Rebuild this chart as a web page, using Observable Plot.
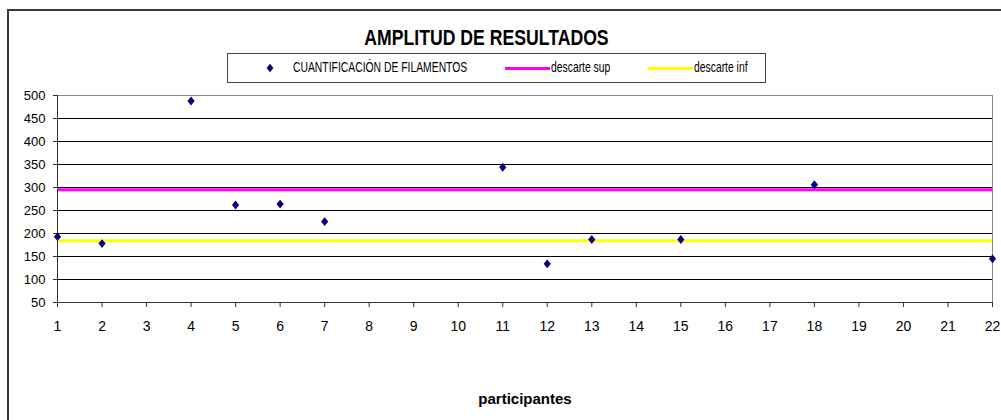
<!DOCTYPE html>
<html>
<head>
<meta charset="utf-8">
<script src="https://cdn.jsdelivr.net/npm/d3@7"></script>
<script src="https://cdn.jsdelivr.net/npm/@observablehq/plot@0.6"></script>
<style>
  html, body { margin: 0; padding: 0; background: #fff; }
  body { width: 1001px; height: 420px; position: relative; overflow: hidden; font-family: "Liberation Sans", Arial, sans-serif; }
  #frame { position: absolute; left: 7px; top: 9px; width: 1100px; height: 600px; border: 2px solid #3a3a3a; box-sizing: border-box; }
  #title { position: absolute; left: 286px; top: 27px; width: 400px; text-align: center; font-weight: bold; font-size: 21px; line-height: 21px; color: #000; }
  #title span { display: inline-block; transform: scale(0.84, 1.04); transform-origin: center; white-space: nowrap; }
  #legend { position: absolute; left: 227px; top: 53px; width: 539px; height: 30px; border: 1px solid #444; box-sizing: border-box; background: #fff; }
  #legend .t { position: absolute; top: 5.8px; font-size: 14px; line-height: 14px; display: inline-block; transform: scaleX(0.74); transform-origin: left center; white-space: nowrap; color: #000; }
  #legend .ln { position: absolute; height: 3px; top: 12.5px; width: 45px; }
  #legend svg { position: absolute; }
  #chart { position: absolute; left: 0; top: 85px; }
</style>
</head>
<body>
<div id="frame"></div>
<div id="title"><span>AMPLITUD DE RESULTADOS</span></div>
<div id="legend"></div>
<div id="chart"></div>
<script>
// ---- data ----
const categorias = ["1","2","3","4","5","6","7","8","9","10","11","12","13","14","15","16","17","18","19","20","21","22"];
const participantes = [1, 2, 4, 5, 6, 7, 11, 12, 13, 15, 18, 22];
const filamentos = [193, 178, 488, 262, 264, 226, 344, 134, 187, 187, 306, 145];
const descarteSup = [295];
const descarteInf = [184];
const yTicks = [50, 100, 150, 200, 250, 300, 350, 400, 450, 500];
const serieNombres = ["CUANTIFICACIÓN DE FILAMENTOS", "descarte sup", "descarte inf"];
const serieColores = ["#000080", "#ff00ff", "#ffff00"];

const puntos = participantes.map((p, i) => ({p: String(p), v: filamentos[i]}));

// tall diamond symbol
const diamante = {
  draw(ctx, size) {
    const r = Math.sqrt(size / Math.PI);
    ctx.moveTo(0, -r * 1.1);
    ctx.lineTo(r * 0.9, 0);
    ctx.lineTo(0, r * 1.1);
    ctx.lineTo(-r * 0.9, 0);
    ctx.closePath();
  }
};

const chart = Plot.plot({
  width: 1001,
  height: 335,
  marginLeft: 57,
  marginRight: 9,
  marginTop: 10,
  marginBottom: 118,
  style: { fontFamily: "'Liberation Sans', Arial, sans-serif", background: "transparent", color: "#000", overflow: "visible" },
  x: { type: "point", domain: categorias, padding: 0, round: false, label: null },
  y: { domain: [50, 500], label: null },
  marks: [
    Plot.ruleY(yTicks.slice(1, -1), { stroke: "#000", strokeWidth: 1 }),
    Plot.frame({ stroke: "#888" }),
    Plot.ruleY(descarteSup, { stroke: serieColores[1], strokeWidth: 3 }),
    Plot.ruleY(descarteInf, { stroke: serieColores[2], strokeWidth: 3 }),
    Plot.ruleY([yTicks[0]], { stroke: "#333" }),
    Plot.ruleX([categorias[0]], { stroke: "#333" }),
    Plot.axisY({ ticks: yTicks, tickSize: 4, tickPadding: 8, fontSize: 13, label: null, stroke: "#333" }),
    Plot.axisX({ ticks: categorias, tickSize: 5, tickPadding: 14, fontSize: 14, label: null, stroke: "#333" }),
    Plot.text(["participantes"], { frameAnchor: "bottom", dy: 101, fontSize: 15, fontWeight: "bold", fill: "#000" }),
    Plot.dot(puntos, { x: "p", y: "v", symbol: diamante, r: 4, fill: serieColores[0], stroke: "none" })
  ]
});
document.getElementById("chart").appendChild(chart);

// legend
const legend = d3.select("#legend");
legend.append("svg").attr("width", 10).attr("height", 12)
  .style("left", "36.5px").style("top", "7.7px")
  .append("path").attr("d", "M5,1.8L8.4,6L5,10.2L1.6,6Z").attr("fill", serieColores[0]);
legend.append("div").attr("class", "t").style("left", "64.5px").text(serieNombres[0]);
legend.append("div").attr("class", "ln").style("left", "277px").style("background", serieColores[1]);
legend.append("div").attr("class", "t").style("left", "323px").text(serieNombres[1]);
legend.append("div").attr("class", "ln").style("left", "420px").style("background", serieColores[2]);
legend.append("div").attr("class", "t").style("left", "466px").text(serieNombres[2]);
</script>
</body>
</html>
